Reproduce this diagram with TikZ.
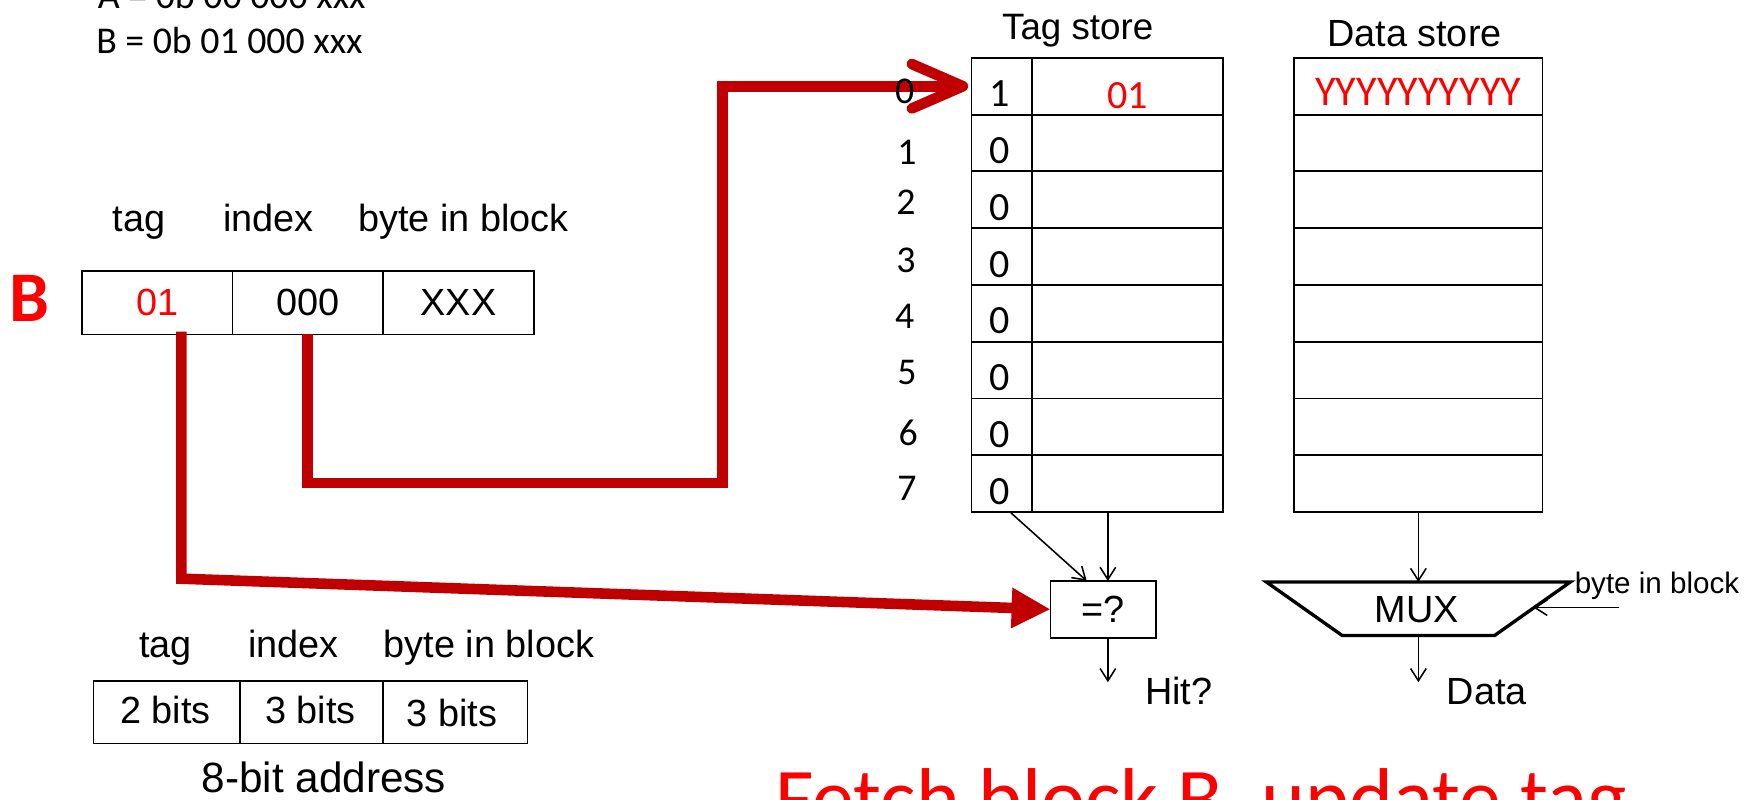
\documentclass[tikz,border=0pt]{standalone}
\usepackage{fontspec}
\setmainfont{Liberation Sans}
\newfontfamily\calfont{Carlito}
\usetikzlibrary{arrows.meta}
\definecolor{wirered}{RGB}{192,0,0}
\definecolor{textred}{RGB}{255,0,0}
\newcommand\setfs[1]{\fontsize{#1}{#1}\selectfont}

\begin{document}
\begin{tikzpicture}[x=1pt,y=-1pt,
  every node/.style={inner sep=0pt, outer sep=0pt},
  cellbox/.style={draw, line width=1.6pt, anchor=north west},
  rowcell/.style={cellbox, minimum height=51pt},
  wire/.style={draw=wirered, line width=9.5pt},
  thinarrow/.style={line width=1.4pt, -{Straight Barb[length=11pt,width=14pt]}},
  arial/.style={font=\setfs{34}},
  calibri/.style={font=\calfont\setfs{34}},
  bitfont/.style={font=\calfont\setfs{36}}]

\clip (0,0) rectangle (1568,718);

% address examples
\node[calibri, anchor=base west] (addrA) at (88,7.5) {A = 0b 00 000 xxx};
\node[calibri, anchor=base west] (addrB) at (86.5,48) {B = 0b 01 000 xxx};

% address B split into fields
\node[arial, anchor=base west] (ltag) at (101.5,208) {tag};
\node[arial, anchor=base west] (lidx) at (200.5,208) {index};
\node[arial, anchor=base west] (lbib) at (322,208) {byte in block};
\node[font=\calfont\bfseries\setfs{64}, text=textred, anchor=base] (bigB) at (26.5,289) {B};
\node[cellbox, minimum width=135pt, minimum height=57pt] (c1) at (74,243.5) {};
\node[cellbox, minimum width=135pt, minimum height=57pt] (c2) at (209,243.5) {};
\node[cellbox, minimum width=136pt, minimum height=57pt] (c3) at (344,243.5) {};
\node[arial, text=textred] (c1t) at (c1.center) {01};
\node[arial] (c2t) at (c2.center) {000};
\node[arial] (c3t) at (c3.center) {XXX};

% tag store and data store
\node[arial, anchor=base west, font=\setfs{33}] (tslabel) at (900.5,35.3) {Tag store};
\node[arial, anchor=base west] (dslabel) at (1192.5,42) {Data store};
\foreach \i in {0,...,7}{
  \pgfmathsetmacro\ytop{52+51*\i}
  \node[rowcell, minimum width=54pt] (v\i) at (873,\ytop) {};
  \node[rowcell, minimum width=172pt] (t\i) at (927,\ytop) {};
  \node[rowcell, minimum width=223pt] (d\i) at (1163,\ytop) {};
}
\foreach \i/\bit in {0/1,1/0,2/0,3/0,4/0,5/0,6/0,7/0}{
  \node[bitfont] (vb\i) at ([yshift=-7pt,xshift=-2pt]v\i.center) {\bit};
}
\node[text=textred, font=\calfont\setfs{36}] (tag0) at ([yshift=-8pt]t0.center) {01};
\node[font=\calfont\setfs{38}, text=textred] (data0) at ([yshift=-5pt]d0.center) {YYYYYYYYYY};

% comparator
\node[draw, line width=1.6pt, minimum width=95pt, minimum height=51pt, arial] (cmp) at (991.5,547.5) {=?};
\coordinate (validtap) at ([xshift=7.5pt]v7.south);
\coordinate (cmpin1) at ([xshift=-15pt]cmp.north);
\coordinate (cmpin2) at ([xshift=4pt]cmp.north);
\coordinate (cmpout) at ([xshift=4pt]cmp.south);
\coordinate (hitend) at (995.5,613);
\draw[thinarrow] (validtap) -- (cmpin1);
\draw[thinarrow] (t7.south -| cmpin2) -- (cmpin2);
\draw[thinarrow] (cmpout) -- (hitend);
\node[arial, anchor=base west] (hit) at (1029,633) {Hit?};

% multiplexer
\coordinate (muxtl) at (1138,523);
\coordinate (muxtr) at (1411,523);
\coordinate (muxbr) at (1343,571);
\coordinate (muxbl) at (1206,571);
\draw[line width=3pt, line join=miter] (muxtl) -- (muxtr) -- (muxbr) -- (muxbl) -- cycle;
\node[arial] (mux) at (1273,548) {MUX};
\coordinate (muxtop) at (d7.south |- muxtl);
\coordinate (muxbot) at (d7.south |- muxbl);
\coordinate (muxin) at (1378,546);
\coordinate (selstart) at (1455,546);
\coordinate (dataend) at (1274.5,613);
\draw[thinarrow] (d7.south) -- (muxtop);
\draw[thinarrow] (muxbot) -- (dataend);
\draw[thinarrow] (selstart) -- (muxin);
\node[anchor=base west, font=\setfs{26.6}] (sellabel) at (1415,533) {byte in block};
\node[arial, anchor=base west] (datalabel) at (1300,633) {Data};

% address format
\node[arial, anchor=base west] (ftag) at (125,591) {tag};
\node[arial, anchor=base west] (fidx) at (223,591) {index};
\node[arial, anchor=base west] (fbib) at (345,591) {byte in block};
\node[cellbox, minimum width=131.5pt, minimum height=56.4pt] (b1) at (84,611.6) {};
\node[cellbox, minimum width=128.5pt, minimum height=56.4pt] (b2) at (215.5,611.6) {};
\node[cellbox, minimum width=130pt, minimum height=56.4pt] (b3) at (344,611.6) {};
\node[arial, anchor=base] (b1t) at (148.5,650) {2 bits};
\node[arial, anchor=base] (b2t) at (279,650) {3 bits};
\node[arial, anchor=base] (b3t) at (406,652.5) {3 bits};
\node[anchor=base, font=\setfs{38}] (addrlabel) at (291,712) {8-bit address};

% index and tag paths of address B
\coordinate (idxA) at (c2.south |- 0,434);
\coordinate (idxB) at (649,434);
\coordinate (tagtap) at (163,298);
\coordinate (tagbend) at (163,520);
\draw[wire, line join=miter, -{Straight Barb[length=46pt,width=40pt,round]}]
  (c2.south) -- (idxA) -- (idxB) -- (idxB |- v0.west) -- ([xshift=-3pt]v0.west);
\draw[wire, line join=miter, -{Triangle[length=35pt,width=34pt]}]
  (tagtap) -- (tagbend) -- (cmp.west);

% set numbers
\foreach \i/\x/\y in {0/813/82,1/815/137,2/814/182,3/814/234,4/813/284.5,5/815/334.5,6/816/388.5,7/815/439}{
  \node[calibri] (n\i) at (\x,\y) {\i};
}

% caption
\node[font=\calfont\setfs{75}, text=textred, anchor=base west] (caption) at (697,743) {Fetch block B, update tag};
\end{tikzpicture}
\end{document}
